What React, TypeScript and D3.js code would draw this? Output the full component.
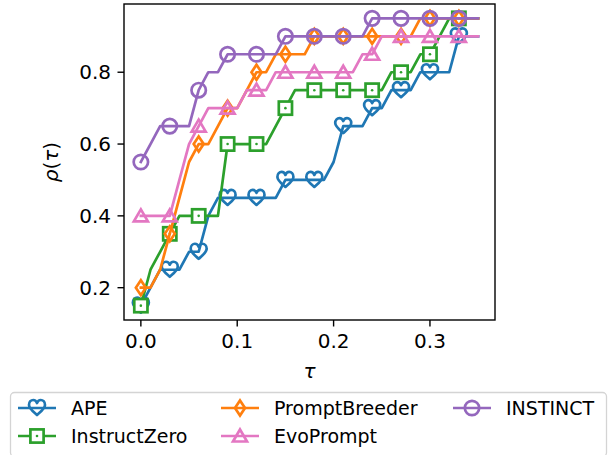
import React from "react";
import * as d3 from "d3";

const tau = [0, 0.01, 0.02, 0.03, 0.04, 0.05, 0.06, 0.07, 0.08, 0.09, 0.1, 0.11, 0.12, 0.13, 0.14, 0.15, 0.16, 0.17, 0.18, 0.19, 0.2, 0.21, 0.22, 0.23, 0.24, 0.25, 0.26, 0.27, 0.28, 0.29, 0.3, 0.31, 0.32, 0.33, 0.34, 0.35];

const apeValues = [0.15, 0.2, 0.25, 0.25, 0.25, 0.3, 0.3, 0.4, 0.45, 0.45, 0.45, 0.45, 0.45, 0.45, 0.45, 0.5, 0.5, 0.5, 0.5, 0.5, 0.55, 0.65, 0.65, 0.65, 0.7, 0.7, 0.75, 0.75, 0.75, 0.8, 0.8, 0.8, 0.8, 0.9, 0.9, 0.9];
const instructZeroValues = [0.15, 0.25, 0.3, 0.35, 0.4, 0.4, 0.4, 0.4, 0.4, 0.6, 0.6, 0.6, 0.6, 0.6, 0.65, 0.7, 0.75, 0.75, 0.75, 0.75, 0.75, 0.75, 0.75, 0.75, 0.75, 0.75, 0.8, 0.8, 0.8, 0.85, 0.85, 0.9, 0.95, 0.95, 0.95, 0.95];
const promptBreederValues = [0.2, 0.2, 0.25, 0.35, 0.45, 0.55, 0.6, 0.6, 0.65, 0.7, 0.7, 0.75, 0.8, 0.8, 0.85, 0.85, 0.85, 0.85, 0.9, 0.9, 0.9, 0.9, 0.9, 0.9, 0.9, 0.9, 0.9, 0.9, 0.9, 0.95, 0.95, 0.95, 0.95, 0.95, 0.95, 0.95];
const evoPromptValues = [0.4, 0.4, 0.4, 0.4, 0.5, 0.6, 0.65, 0.7, 0.7, 0.7, 0.7, 0.75, 0.75, 0.75, 0.8, 0.8, 0.8, 0.8, 0.8, 0.8, 0.8, 0.8, 0.8, 0.85, 0.85, 0.9, 0.9, 0.9, 0.9, 0.9, 0.9, 0.9, 0.9, 0.9, 0.9, 0.9];
const instinctValues = [0.55, 0.6, 0.65, 0.65, 0.65, 0.65, 0.75, 0.8, 0.8, 0.85, 0.85, 0.85, 0.85, 0.85, 0.85, 0.9, 0.9, 0.9, 0.9, 0.9, 0.9, 0.9, 0.9, 0.9, 0.95, 0.95, 0.95, 0.95, 0.95, 0.95, 0.95, 0.95, 0.95, 0.95, 0.95, 0.95];

const seriesNames = ["APE", "InstructZero", "PromptBreeder", "EvoPrompt", "INSTINCT"];
const seriesColors = ["#1f77b4", "#2ca02c", "#ff7f0e", "#e377c2", "#9467bd"];
const seriesMarkers = ["heart", "square", "diamond", "triangle", "circle"];
const seriesValues = [apeValues, instructZeroValues, promptBreederValues, evoPromptValues, instinctValues];

const xTicks = [0, 0.1, 0.2, 0.3];
const yTicks = [0.2, 0.4, 0.6, 0.8];

const W = 611;
const H = 455;
const L = 124;
const R = 495;
const T = 4;
const B = 320;
const FONT = "DejaVu Sans, sans-serif";
const FS = 19;
const TFS = 20;
const LW = 2.7;

const x = d3.scaleLinear().domain([-0.0175, 0.3675]).range([L, R]);
const y = d3.scaleLinear().domain([0.11, 0.99]).range([B, T]);

const heartPath =
  "M0,7 C-4,3.5 -8,0.5 -8,-3 C-8,-6.2 -5.8,-8 -3.8,-8 C-2,-8 -0.6,-6.8 0,-5 C0.6,-6.8 2,-8 3.8,-8 C5.8,-8 8,-6.2 8,-3 C8,0.5 4,3.5 0,7 Z";

function Marker({ kind, cx, cy, color }: { kind: string; cx: number; cy: number; color: string }) {
  const common = { stroke: color, strokeWidth: LW, fill: "none" } as any;
  if (kind === "circle") return <circle cx={cx} cy={cy} r={7.2} {...common} />;
  if (kind === "square")
    return (
      <g>
        <rect x={cx - 6.6} y={cy - 6.6} width={13.2} height={13.2} {...common} fill="white" />
        <circle cx={cx} cy={cy} r={1.3} fill={color} />
      </g>
    );
  if (kind === "diamond")
    return <path d={`M${cx},${cy - 7.5} L${cx + 5},${cy} L${cx},${cy + 7.5} L${cx - 5},${cy} Z`} {...common} />;
  if (kind === "triangle")
    return <path d={`M${cx},${cy - 6.5} L${cx + 7},${cy + 5.5} L${cx - 7},${cy + 5.5} Z`} {...common} />;
  return <path d={heartPath} transform={`translate(${cx},${cy})`} {...common} strokeLinejoin="round" />;
}

export default function App() {
  const line = d3
    .line<number>()
    .x((_, i) => x(tau[i]))
    .y((d) => y(d));

  const legendRows = [408, 436];
  const legendCols = [18, 221, 453];
  const legendItems = [
    { idx: 0, col: 0, row: 0 },
    { idx: 1, col: 0, row: 1 },
    { idx: 2, col: 1, row: 0 },
    { idx: 3, col: 1, row: 1 },
    { idx: 4, col: 2, row: 0 },
  ];

  return (
    <svg width={W} height={H} style={{ position: "absolute", left: 0, top: 0, background: "white" }} fontFamily={FONT}>
      <rect x={0} y={0} width={W} height={H} fill="white" />
      <defs>
        <clipPath id="plotclip">
          <rect x={L} y={T} width={R - L} height={B - T} />
        </clipPath>
      </defs>
      <g clipPath="url(#plotclip)">
        {seriesValues.map((vals, si) => (
          <g key={si}>
            <path d={line(vals) || ""} fill="none" stroke={seriesColors[si]} strokeWidth={LW} strokeLinejoin="round" strokeLinecap="square" />
            {vals.map((v, i) =>
              i % 3 === 0 ? <Marker key={i} kind={seriesMarkers[si]} cx={x(tau[i])} cy={y(v)} color={seriesColors[si]} /> : null
            )}
          </g>
        ))}
      </g>
      <rect x={L} y={T} width={R - L} height={B - T} fill="none" stroke="black" strokeWidth={1.4} />
      {xTicks.map((t) => (
        <g key={t}>
          <line x1={x(t)} x2={x(t)} y1={B} y2={B + 6.5} stroke="black" strokeWidth={1.4} />
          <text x={x(t)} y={B + 12.5} textAnchor="middle" dominantBaseline="hanging" fontSize={TFS}>
            {d3.format(".1f")(t)}
          </text>
        </g>
      ))}
      {yTicks.map((t) => (
        <g key={t}>
          <line x1={L - 6.5} x2={L} y1={y(t)} y2={y(t)} stroke="black" strokeWidth={1.4} />
          <text x={L - 13} y={y(t)} textAnchor="end" dominantBaseline="central" fontSize={TFS}>
            {d3.format(".1f")(t)}
          </text>
        </g>
      ))}
      <text x={(L + R) / 2} y={378} textAnchor="middle" fontSize={TFS} fontStyle="italic">
        τ
      </text>
      <text transform={`translate(51,${(T + B) / 2}) rotate(-90)`} textAnchor="middle" dominantBaseline="central" fontSize={TFS}>
        <tspan fontStyle="italic">ρ</tspan>
        <tspan>(</tspan>
        <tspan fontStyle="italic">τ</tspan>
        <tspan>)</tspan>
      </text>
      <rect x={10.5} y={392.5} width={596} height={64} rx={4} fill="white" stroke="#d4d4d4" strokeWidth={1.3} />
      {legendItems.map(({ idx, col, row }) => {
        const hx = legendCols[col];
        const yy = legendRows[row];
        return (
          <g key={idx}>
            <line x1={hx} x2={hx + 38} y1={yy} y2={yy} stroke={seriesColors[idx]} strokeWidth={LW} />
            <Marker kind={seriesMarkers[idx]} cx={hx + 19} cy={yy} color={seriesColors[idx]} />
            <text x={hx + 53} y={yy} dominantBaseline="central" fontSize={FS}>
              {seriesNames[idx]}
            </text>
          </g>
        );
      })}
    </svg>
  );
}
